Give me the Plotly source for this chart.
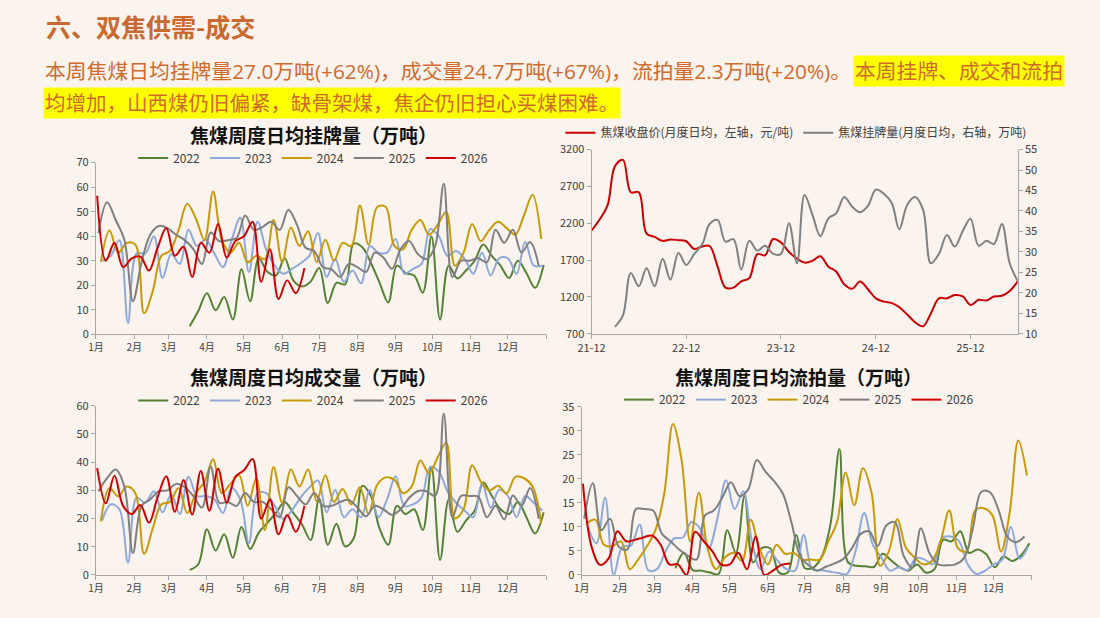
import pandas as pd
import plotly.graph_objects as go

W, H = 1100, 618
BG = "#FAF3EE"
FONT = "Noto Sans CJK SC"
TEXT_FONT = "Open Sans, Noto Sans CJK SC"
AXIS = "#A6A6A6"
TICK = "#404040"
ORANGE = "#D06A2C"

YEARS = [2022, 2023, 2024, 2025, 2026]
FIRST_FRIDAY = {2022: "2022-01-07", 2023: "2023-01-06", 2024: "2024-01-05",
                2025: "2025-01-03", 2026: "2026-01-02"}
COLORS = {2022: "#548235", 2023: "#8EA9DB", 2024: "#C99A06",
          2025: "#7F7F7F", 2026: "#D00000"}
MONTH_LABELS = ["1月", "2月", "3月", "4月", "5月", "6月",
                "7月", "8月", "9月", "10月", "11月", "12月"]

# ---------------- 焦煤周度日均挂牌量(万吨) ----------------
listing_2022 = [None, None, None, None, None, None, None, None, None, None,
                3.3, 9.5, 16.8, 9.8, 15.2, 6.1, 26.5, 13.5, 31, 25.5,
                24, 31, 22, 19.5, 21.5, 27, 12.8, 21, 20.4, 37,
                35.5, 29, 21, 13, 28, 25, 24, 17, 40, 6,
                28, 22.8, 26, 30, 36.6, 32, 28, 23, 30, 25, 19, 28.3]
listing_2023 = [30, 32, 38.4, 4.6, 33, 33, 40, 23, 32.7, 28.7,
                42.6, 36, 38.6, 33, 27.4, 38.4, 47.5, 25.4, 45.9, 34.6,
                28, 24.7, 26.7, 29, 32, 41.3, 23.4, 30.7, 21.4, 26,
                20.8, 36, 33.3, 33.3, 38.9, 24.7, 26.7, 28.7, 42.9, 40,
                32, 34, 30.7, 24.7, 33.3, 24, 31, 31, 24.7, 37.6, 28, 28]
listing_2024 = [29.6, 42.3, 33.3, 37.3, 36.6, 8.6, 17.5, 32, 34, 42.6,
                53.2, 47.2, 38.4, 58.2, 38.6, 33.3, 37.3, 29.4, 32, 30.7,
                46.6, 29.4, 43.6, 36, 42, 29.4, 38.6, 30, 37.3, 36,
                52.5, 36.6, 51.9, 51.9, 36, 34.7, 42.6, 46.6, 40.6, 44.6,
                49.9, 28, 33.3, 45, 38, 42.6, 45.9, 43.3, 40.6, 48.5, 56.9, 38.9]
listing_2025 = [41.3, 53.8, 46.6, 38.6, 13.5, 29.4, 40.6, 44.2, 43.3, 40.6,
                38.4, 34.7, 28.7, 41.5, 38, 38.4, 39.3, 48.4, 42.6, 43.7,
                45.9, 42.6, 50.8, 44.6, 35.3, 34, 27.4, 26.5, 23.4, 28.7,
                27.4, 25.4, 33.3, 31.3, 26.7, 34.7, 38, 32.7, 30.7, 36,
                61.4, 23.4, 30, 30, 31, 29.4, 42.6, 37.3, 42.6, 33.3, 37.6, 28]
listing_2026 = [56.5, 30, 37.3, 27.4, 31, 31.7, 26, 35.3, 43.3, 32,
                35.7, 23.4, 37.3, 33.3, 45, 31.3, 38, 40, 45.9, 21.4,
                34.7, 14.4, 22, 16.8, 27]

# ---------------- 焦煤周度日均成交量(万吨) ----------------
deal_2022 = [None, None, None, None, None, None, None, None, None, None,
             1.8, 3.8, 16.2, 8.7, 14.4, 6.1, 17, 9.2, 15, 18.5,
             22, 25.9, 22, 18, 12.4, 27, 10.7, 18.2, 10.1, 13,
             31.6, 28, 16.4, 10.7, 24.5, 21.6, 23.3, 15.9, 38.3, 5.3,
             26.8, 15.3, 19.3, 22.8, 32.8, 28, 23.3, 21.6, 25.9, 20.5, 14.7, 22.2]
deal_2023 = [19.3, 25, 23.3, 4.4, 27.4, 25.6, 29.7, 22.2, 28.5, 21.6,
             34.8, 28, 28, 26.8, 22, 30.8, 26.8, 11.3, 29, 29,
             24.5, 19.9, 23, 27.5, 31, 33.5, 22.2, 30.2, 20.5, 23.3,
             20.5, 30.2, 20.5, 26.8, 35, 24.5, 25, 27.4, 38.3, 36.6,
             29.7, 25.6, 22.8, 20.5, 32.5, 23.9, 30.2, 28, 20.5, 28, 25.6, 22.8]
deal_2024 = [19, 30.8, 27.9, 31.4, 29, 7.5, 16.4, 25, 25.9, 30.8,
             22, 29, 33, 41, 29, 32.3, 35.4, 24.5, 34.3, 15.9,
             38.3, 25.6, 37.4, 31.4, 37.4, 26.2, 35.4, 25.9, 30.5, 25,
             31.1, 21.6, 32, 34.6, 33.7, 29, 31.4, 40.6, 36, 41.7,
             46.9, 20.1, 23.3, 38.9, 33.1, 30, 31.6, 28.9, 34.8, 34.3, 31.4, 18.2]
deal_2025 = [29.7, 34.3, 37.4, 31.4, 7.8, 24.5, 26.8, 29.7, 30, 32.3,
             31.1, 28, 23.9, 38.5, 25.6, 25.9, 24.5, 29.1, 25.9, 25.9,
             23.3, 20.5, 31.1, 28, 25, 29.1, 24.5, 24.5, 25.9, 26.6,
             23.9, 20.8, 24.5, 23.3, 21.3, 23.3, 27.4, 29.7, 29.7, 28,
             57.2, 20.5, 28, 28, 27.7, 20.5, 24.5, 19.7, 28.2, 24.5, 30.8, 19.9]
deal_2026 = [37.9, 25.4, 35.2, 24.5, 21.6, 24.8, 18.5, 27.6, 35, 22.4,
             33.7, 21.4, 36.9, 22.8, 37.7, 25.6, 34.8, 37.1, 41.1, 19.9,
             26.8, 14.4, 21.3, 15.3, 24.5]

# ---------------- 焦煤周度日均流拍量(万吨) ----------------
unsold_2022 = [None, None, None, None, None, None, None, None, None, None,
               1.4, 4.6, 1, 0.9, 0.5, 0.2, 9.3, 4.6, 16.4, 2.6,
               5.6, 5.5, 0.5, 0.5, 8.3, 1.4, 1.6, 4, 11, 26.2,
               2.6, 1.9, 1.8, 1.7, 4.4, 3, 1.6, 0.9, 2.2, 0.5,
               1.2, 7.3, 7, 9.1, 4.6, 5.3, 4.3, 1.6, 3.9, 2.9, 4, 6.6]
unsold_2023 = [10, 6.6, 16.1, 0, 5.9, 6.1, 10.5, 1, 1.2, 4.9,
               7.6, 7.8, 11, 9.7, 5.6, 11.7, 19.7, 13.7, 17.4, 7,
               1.2, 4.9, 2.9, 1.2, 0.9, 8.3, 1.2, 1, 0.7, 0.4,
               0.2, 4.9, 12.9, 6.3, 3.6, 0.9, 1.6, 1, 3.5, 3.2,
               2.2, 7.6, 8, 7, 2.2, 0.2, 0.9, 2.2, 3.2, 10, 3.4, 5.9]
unsold_2024 = [10.7, 11.5, 6.3, 6, 7, 1.2, 3.3, 6, 9.5, 17,
               31.4, 23.9, 7, 17.1, 5.6, 1.2, 3.6, 4.6, 2.9, 11.5,
               5.6, 2.2, 6.3, 4.4, 4.6, 3.2, 3.2, 3.2, 7, 11,
               21.3, 14.5, 22.2, 17.1, 1.9, 4.9, 11.6, 5.6, 3.6, 2.2,
               2.9, 7, 13.4, 5.6, 4.9, 13.4, 13.9, 12.4, 4.9, 13, 28, 20.7]
unsold_2025 = [11.7, 19.1, 9.3, 11.7, 5.9, 5.3, 13.7, 13.7, 13.4, 8.6,
               7, 5.3, 4, 3.2, 12.4, 13.4, 16.1, 19.3, 16.4, 17.8,
               23.9, 21.5, 19.5, 17, 11, 4, 2, 0.9, 1.7, 2.4,
               3.3, 5.5, 8.5, 9.1, 6, 10.3, 11, 4, 1.6, 9.7,
               4.5, 2.2, 2, 2.2, 3.5, 9.5, 17.3, 17.2, 13.5, 8, 6.8, 8]
unsold_2026 = [19, 5.9, 2.1, 3.5, 9.1, 7, 7.3, 7.8, 8.2, 6.3,
               2.2, 2.2, 0, 9, 7, 4.9, 2.2, 2.2, 4.6, 1.2,
               8, 0, 0.9, 2.1, 2.4]

# ---------------- 月度：收盘价 & 挂牌量 ----------------
PRICE_START = "2021-12-01"
price_close = [2100, 2250, 2445, 2972, 3060, 2620, 2620, 2060, 2015, 1960, 1980, 1970, 1955,
               1850, 1885, 1890, 1610, 1325, 1325, 1410, 1455, 1780, 1765, 1985, 1940,
               1810, 1720, 1665, 1690, 1750, 1610, 1545, 1370, 1310, 1410, 1300, 1180,
               1135, 1115, 1060, 960, 855, 800, 975, 1180, 1180, 1225, 1205, 1090,
               1160, 1150, 1205, 1215, 1280, 1410]
LISTING_START = "2022-03-01"
listing_monthly = [11.7, 14.5, 24.8, 21.6, 26, 21.6, 28.3, 23.2, 29.7, 26.8,
                   29.5, 31.9, 36.8, 37.8, 32.5, 33.1, 25.7, 32.7, 30.3, 31.5, 29.5, 29.5,
                   37, 27.2, 43.9, 39, 33.8, 38.2, 39.4, 43.4, 41, 39.7, 41.3, 45.2,
                   44.2, 41.8, 35.5, 41.5, 43.4, 40.3, 27.2, 29.5, 34.1, 31.3, 35.1, 38.1,
                   31.5, 32.7, 31.9, 36.8, 27.2, 22.8]

weekly_sets = {
    "listing": [listing_2022, listing_2023, listing_2024, listing_2025, listing_2026],
    "deal": [deal_2022, deal_2023, deal_2024, deal_2025, deal_2026],
    "unsold": [unsold_2022, unsold_2023, unsold_2024, unsold_2025, unsold_2026],
}


def weekly_x(year, n):
    return list(pd.date_range(FIRST_FRIDAY[year], periods=n, freq="7D").dayofyear)


def px_x(p):
    return p / W


def px_y(p):
    return 1 - p / H


fig = go.Figure()

panels = [("listing", "x", "y", "legend"),
          ("deal", "x3", "y4", "legend3"),
          ("unsold", "x4", "y5", "legend4")]
for key, xa, ya, lg in panels:
    for year, vals in zip(YEARS, weekly_sets[key]):
        fig.add_trace(go.Scatter(
            x=weekly_x(year, len(vals)), y=vals, name=str(year), mode="lines",
            line=dict(color=COLORS[year], width=2, shape="spline", smoothing=1.0),
            xaxis=xa, yaxis=ya, legend=lg, connectgaps=False, hoverinfo="skip"))

price_x = pd.date_range(PRICE_START, periods=len(price_close), freq="MS")
listing_x = pd.date_range(LISTING_START, periods=len(listing_monthly), freq="MS")
fig.add_trace(go.Scatter(
    x=price_x, y=price_close, name="焦煤收盘价(月度日均，左轴，元/吨)", mode="lines",
    line=dict(color="#CC0000", width=2, shape="spline", smoothing=1.0),
    xaxis="x2", yaxis="y2", legend="legend2"))
fig.add_trace(go.Scatter(
    x=listing_x, y=listing_monthly, name="焦煤挂牌量(月度日均，右轴，万吨)", mode="lines",
    line=dict(color="#808080", width=2, shape="spline", smoothing=1.0),
    xaxis="x2", yaxis="y3", legend="legend2"))

month_start = list(pd.date_range("2023-01-01", periods=12, freq="MS").dayofyear)
tickfont = dict(family=FONT, size=10, color=TICK)


def week_xaxis(x0, x1, anchor):
    return dict(domain=[px_x(x0), px_x(x1)], anchor=anchor, range=[1, 366],
                tickmode="array", tickvals=month_start + [366], ticktext=MONTH_LABELS + [""],
                showline=True, linecolor=AXIS, linewidth=1, ticks="outside", ticklen=4,
                tickcolor=AXIS, showgrid=False, zeroline=False, tickfont=tickfont,
                fixedrange=True)


def val_yaxis(y_top, y_bottom, anchor, top, step):
    return dict(domain=[px_y(y_bottom), px_y(y_top)], anchor=anchor, range=[0, top],
                tick0=0, dtick=step, showline=True, linecolor=AXIS, linewidth=1,
                ticks="outside", ticklen=4, tickcolor=AXIS, showgrid=False,
                zeroline=False, tickfont=dict(family=FONT, size=11, color=TICK))


fig.update_layout(
    xaxis=week_xaxis(83, 539, "y"),
    yaxis=val_yaxis(157.7, 334, "x", 70, 10),
    xaxis3=week_xaxis(83, 539, "y4"),
    yaxis4=val_yaxis(407.3, 581, "x3", 60, 10),
    xaxis4=week_xaxis(575, 1031, "y5"),
    yaxis5=val_yaxis(408.3, 581, "x4", 35, 5),
    xaxis2=dict(domain=[px_x(585), px_x(1016.7)], anchor="y2", type="date",
                range=["2021-12-01", "2026-06-01"], tick0="2021-12-01", dtick="M12",
                tickformat="%y-%m", showline=True, linecolor=AXIS, ticks="outside",
                ticklen=4, tickcolor=AXIS, showgrid=False, zeroline=False,
                tickfont=dict(family=FONT, size=11, color=TICK)),
    yaxis2=dict(domain=[px_y(333.3), px_y(144.3)], anchor="x2", range=[700, 3200],
                tick0=700, dtick=500, showline=True, linecolor=AXIS, ticks="outside",
                ticklen=4, tickcolor=AXIS, showgrid=False, zeroline=False,
                tickfont=dict(family=FONT, size=11, color=TICK)),
    yaxis3=dict(domain=[px_y(333.3), px_y(144.3)], anchor="x2", overlaying="y2",
                side="right", range=[10, 55], tick0=10, dtick=5, showline=True,
                linecolor=AXIS, ticks="outside", ticklen=4, tickcolor=AXIS,
                showgrid=False, zeroline=False,
                tickfont=dict(family=FONT, size=11, color=TICK)),
)

legend_common = dict(orientation="h", xanchor="center", yanchor="middle",
                     bgcolor="rgba(0,0,0,0)", itemwidth=30,
                     font=dict(family=FONT, size=12, color=TICK), itemclick=False,
                     itemdoubleclick=False)
fig.update_layout(
    legend=dict(x=px_x(303), y=px_y(153), **legend_common),
    legend2=dict(x=px_x(792), y=px_y(127), **legend_common),
    legend3=dict(x=px_x(303), y=px_y(402), **legend_common),
    legend4=dict(x=px_x(795), y=px_y(401), **legend_common),
)

title_font = dict(family=FONT, size=19, color="#111111")
annotations = [
    dict(text="<b>六、双焦供需-成交</b>", x=px_x(30), y=px_y(17), xanchor="left",
         yanchor="middle", font=dict(family=FONT, size=25, color="#CB6A2E")),
    dict(text="本周焦煤日均挂牌量27.0万吨(+62%)，成交量24.7万吨(+67%)，流拍量2.3万吨(+20%)。",
         x=px_x(850), y=px_y(64), xanchor="right", yanchor="middle",
         font=dict(family=TEXT_FONT, size=20.8, color=ORANGE)),
    dict(text="本周挂牌、成交和流拍", x=px_x(850), y=px_y(64), xanchor="left",
         yanchor="middle", bgcolor="#FFFF00", borderpad=1,
         font=dict(family=TEXT_FONT, size=20.8, color=ORANGE)),
    dict(text="均增加，山西煤仍旧偏紧，缺骨架煤，焦企仍旧担心买煤困难。", x=px_x(29),
         y=px_y(96), xanchor="left", yanchor="middle", bgcolor="#FFFF00", borderpad=1,
         font=dict(family=TEXT_FONT, size=20.5, color=ORANGE)),
    dict(text="<b>焦煤周度日均挂牌量（万吨）</b>", x=px_x(303), y=px_y(129),
         xanchor="center", yanchor="middle", font=title_font),
    dict(text="<b>焦煤周度日均成交量（万吨）</b>", x=px_x(303), y=px_y(377),
         xanchor="center", yanchor="middle", font=title_font),
    dict(text="<b>焦煤周度日均流拍量（万吨）</b>", x=px_x(795), y=px_y(377),
         xanchor="center", yanchor="middle", font=title_font),
]
for a in annotations:
    a.update(xref="paper", yref="paper", showarrow=False)

fig.update_layout(
    width=W, height=H, margin=dict(l=0, r=0, t=0, b=0),
    paper_bgcolor=BG, plot_bgcolor=BG, annotations=annotations,
    font=dict(family=FONT, color=TICK), hovermode=False,
)

fig.write_html("out.html", config={"displayModeBar": False})
